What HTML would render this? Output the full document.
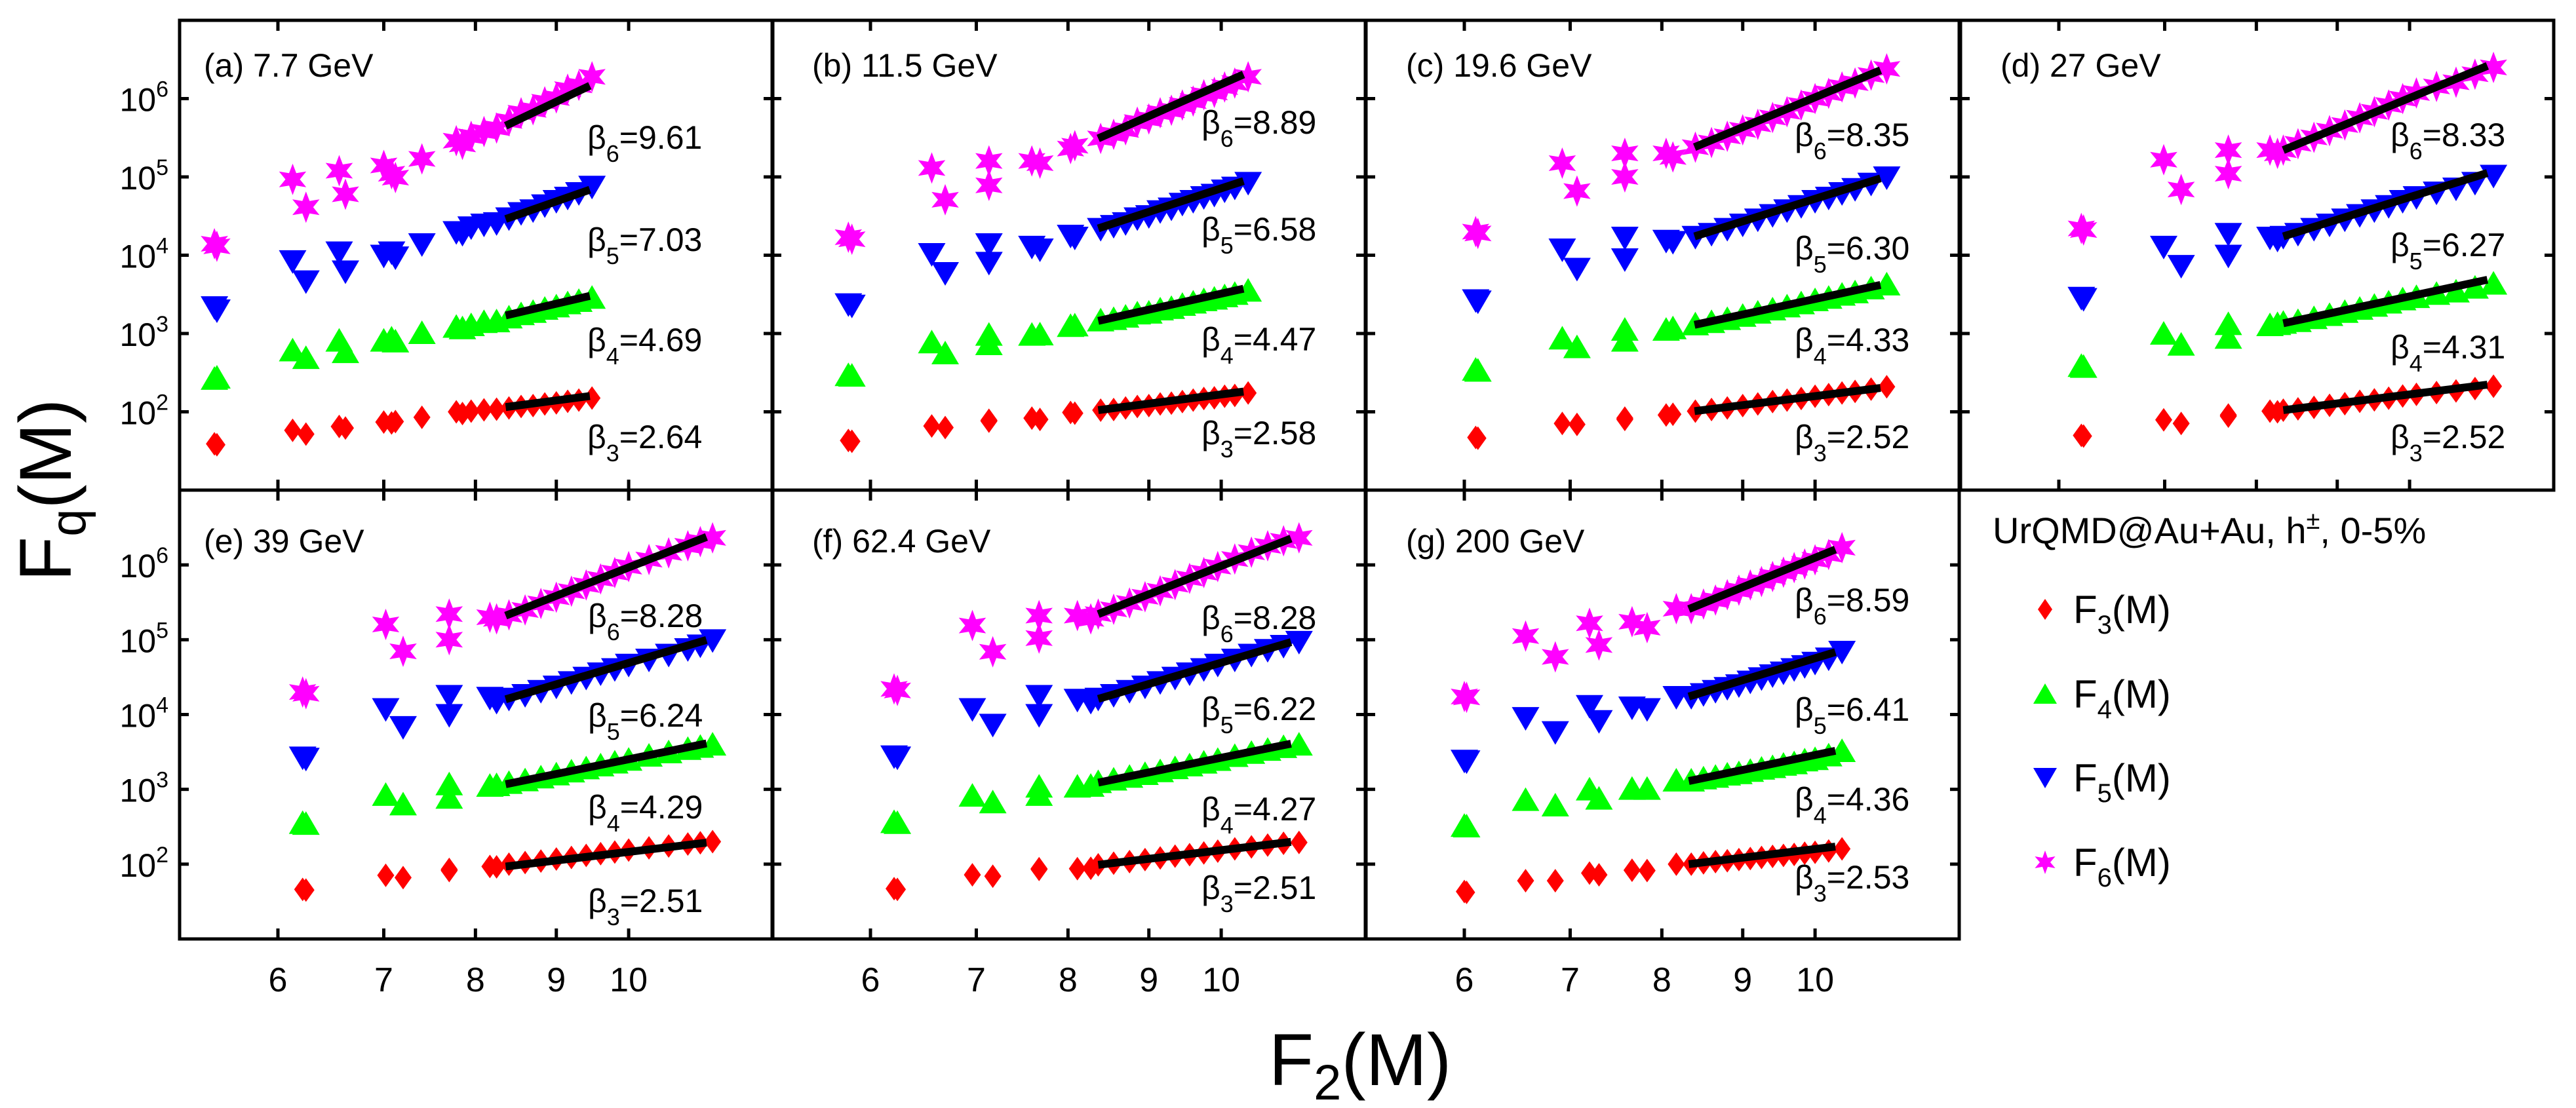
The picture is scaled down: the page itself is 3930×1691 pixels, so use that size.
<!DOCTYPE html>
<html><head><meta charset="utf-8"><style>
html,body{margin:0;padding:0;background:#fff;}
svg{display:block;font-family:"Liberation Sans",Arial,sans-serif;}
</style></head><body>
<svg id="chart" width="3930" height="1691" viewBox="0 0 3930 1691" xmlns="http://www.w3.org/2000/svg">
<rect x="0" y="0" width="3930" height="1691" fill="#fff"/>
<g id="marks"></g>
<g id="frames"></g>
<text transform="translate(108,748) rotate(-90)" text-anchor="middle" font-size="112">F<tspan font-size="76" dy="22">q</tspan><tspan dy="-22">(M)</tspan></text>
<text x="2075" y="1656" text-anchor="middle" font-size="112">F<tspan font-size="76" dy="22">2</tspan><tspan dy="-22">(M)</tspan></text>
<g>
<text x="3040" y="829" font-size="56">UrQMD@Au+Au, h<tspan dy="-22" font-size="38">±</tspan><tspan dy="22">, 0-5%</tspan></text>
<polygon points="3120,914 3131,930 3120,946 3109,930" fill="#ff0000"/>
<text x="3163" y="951" font-size="60">F<tspan font-size="40" dy="16">3</tspan><tspan dy="-16">(M)</tspan></text>
<polygon points="3120,1043 3138,1074 3102,1074" fill="#00ff00"/>
<text x="3163" y="1080" font-size="60">F<tspan font-size="40" dy="16">4</tspan><tspan dy="-16">(M)</tspan></text>
<polygon points="3102,1172 3138,1172 3120,1203" fill="#0000ff"/>
<text x="3163" y="1208" font-size="60">F<tspan font-size="40" dy="16">5</tspan><tspan dy="-16">(M)</tspan></text>
<path id="legstar" fill="#ff00ff" d=""/>
<text x="3163" y="1337" font-size="60">F<tspan font-size="40" dy="16">6</tspan><tspan dy="-16">(M)</tspan></text>
</g>
</svg>
<script>
// ---- data (F2 on x, Fq on y) ----
const aF2=[5.47,5.49,6.13,6.25,6.56,6.62,7.0,7.08,7.12,7.4,7.78,7.85,7.95,8.1,8.25,8.4,8.55,8.7,8.85,9.0,9.15,9.3,9.48];
const aF3=[39,38,58,52,65,62,74,72,75,85,100,95,102,106,108,112,117,120,126,130,136,141,150];
const aF4=[260,270,600,480,800,570,800,850,780,1000,1200,1150,1260,1380,1410,1580,1740,1860,2040,2190,2400,2570,2820];
const aF5=[2200,2000,8500,4700,11000,6300,10000,11000,9500,14000,20000,19000,23000,25000,26000,30000,35000,38000,44000,50000,55000,63000,76000];
const aF6=[14000,13000,93000,41000,120000,60000,140000,110000,98000,170000,290000,260000,330000,380000,420000,520000,660000,720000,910000,1020000,1320000,1480000,1900000];

const bF2=[5.81,5.84,6.56,6.69,7.13,7.13,7.59,7.68,8.03,8.08,8.39,8.55,8.7,8.85,9.0,9.15,9.3,9.45,9.6,9.75,9.9,10.05,10.2,10.4];
const bF3=[43,42,66,63,78,76,83,80,98,96,105,107,112,117,120,126,129,135,141,148,151,158,162,174];
const bF4=[290,285,760,550,950,720,950,960,1230,1250,1450,1510,1620,1780,1820,2000,2090,2290,2450,2630,2750,2950,3160,3470];
const bF5=[2400,2300,10500,6000,14000,8100,13000,12000,18000,17000,22000,24000,26000,30000,32000,37000,40000,46000,50000,56000,60000,68000,74000,85000];
const bF6=[17000,16000,130000,51000,160000,78000,160000,150000,230000,250000,310000,350000,400000,500000,550000,660000,710000,830000,930000,1120000,1200000,1410000,1580000,1900000];

const cF2=[6.1,6.12,6.92,7.07,7.58,7.58,8.05,8.13,8.4,8.6,8.8,9.0,9.2,9.4,9.6,9.8,10.0,10.2,10.4,10.6,10.85,11.1];
const cF3=[47,46,71,69,83,80,91,93,102,107,112,120,126,135,141,148,158,166,174,182,195,209];
const cF4=[340,330,850,660,1100,800,1100,1150,1290,1380,1510,1660,1820,2000,2190,2400,2630,2820,3090,3310,3720,4170];
const cF5=[2700,2600,12000,6800,17000,9000,15500,15000,17400,19000,22000,25000,29000,33000,38000,43000,50000,55000,63000,71000,83000,100000];
const cF6=[20000,19000,150000,66000,200000,100000,200000,180000,240000,275000,330000,400000,470000,575000,680000,830000,1000000,1170000,1410000,1580000,2000000,2400000];

const dF2=[6.2,6.22,6.99,7.17,7.68,7.68,8.16,8.25,8.32,8.5,8.7,8.9,9.1,9.3,9.5,9.7,9.9,10.1,10.4,10.7,11.0,11.3];
const dF3=[50,49,79,71,91,88,102,100,105,109,114,121,127,136,142,149,159,167,176,185,198,212];
const dF4=[380,370,980,710,1300,870,1260,1300,1350,1420,1550,1700,1860,2040,2230,2450,2690,2880,3160,3390,3800,4270];
const dF5=[2900,2800,13000,7400,19000,10000,17000,16000,17400,19000,22000,25000,29000,33000,38000,43000,50000,56000,64000,72000,85000,105000];
const dF6=[22000,21000,166000,69000,220000,110000,220000,200000,220000,265000,320000,390000,460000,570000,680000,830000,1000000,1180000,1430000,1620000,2050000,2500000];

const eF2=[6.22,6.25,7.02,7.2,7.7,7.7,8.17,8.25,8.4,8.6,8.8,9.0,9.2,9.4,9.6,9.8,10.0,10.3,10.6,10.9,11.1,11.3];
const eF3=[46,45,71,66,85,82,93,92,100,105,110,117,123,131,138,145,154,165,175,186,193,200];
const eF4=[350,340,830,620,1150,760,1100,1120,1200,1300,1420,1560,1710,1880,2060,2250,2450,2780,3080,3420,3650,3900];
const eF5=[2700,2600,12000,6900,18000,10000,17000,15000,16500,18500,21000,24000,27500,31500,36000,41000,47000,55000,64000,76000,85000,100000];
const eF6=[20000,19000,160000,70000,220000,100000,200000,190000,215000,250000,305000,370000,445000,540000,650000,790000,950000,1180000,1450000,1800000,2050000,2300000];

const fF2=[6.21,6.24,6.96,7.17,7.67,7.67,8.11,8.27,8.36,8.55,8.75,8.95,9.15,9.35,9.55,9.75,9.95,10.2,10.45,10.7,10.95,11.2];
const fF3=[47,46,72,69,87,85,87,88,98,103,108,115,121,128,134,141,149,160,170,180,190,195];
const fF4=[360,350,810,660,1070,830,1070,1100,1230,1330,1450,1580,1720,1890,2060,2240,2440,2750,3030,3320,3620,3900];
const fF5=[2800,2700,12000,7400,18000,10000,16000,15000,16500,18500,21000,24000,27500,31500,36000,41000,47000,55000,64000,74000,84000,95000];
const fF6=[22000,21000,155000,69000,210000,105000,210000,190000,220000,255000,310000,375000,450000,545000,660000,790000,950000,1200000,1480000,1800000,2100000,2300000];

const gF2=[6.0,6.02,6.56,6.85,7.2,7.3,7.66,7.83,8.17,8.35,8.5,8.65,8.8,8.95,9.1,9.25,9.4,9.55,9.7,9.85,10.0,10.2,10.4];
const gF3=[43,42,60,60,76,72,83,82,100,100,104,108,111,115,119,123,127,131,135,140,144,150,160];
const gF4=[320,315,710,600,980,740,1000,1000,1290,1290,1380,1450,1550,1620,1740,1860,1950,2100,2200,2400,2500,2800,3200];
const gF5=[2450,2400,9100,5900,13200,8300,12600,12000,17400,17400,19000,21000,23000,25000,28000,31000,34000,37000,41000,45000,50000,57000,70000];
const gF6=[17400,17000,112000,59000,166000,85000,174000,145000,260000,260000,300000,340000,400000,460000,540000,600000,700000,800000,920000,1030000,1170000,1380000,1700000];

// fit lines (panels a..g)
const fitX0=[8.36,8.36,8.39,8.32,8.36,8.36,8.32];
const fitX1=[9.45,10.33,11.0,11.2,11.2,11.07,10.3];
const fitY3=[115,105,102,105,93,98,100];
const fitY4=[1700,1450,1290,1350,1170,1230,1290];
const fitY5=[29000,22000,17400,17400,16000,16200,17400];
const fitY6=[450000,310000,240000,220000,210000,220000,257000];
const beta3=[2.64,2.58,2.52,2.52,2.51,2.51,2.53];
const beta4=[4.69,4.47,4.33,4.31,4.29,4.27,4.36];
const beta5=[7.03,6.58,6.30,6.27,6.24,6.22,6.41];
const beta6=[9.61,8.89,8.35,8.33,8.28,8.28,8.59];
const panelTitles=['(a) 7.7 GeV','(b) 11.5 GeV','(c) 19.6 GeV','(d) 27 GeV','(e) 39 GeV','(f) 62.4 GeV','(g) 200 GeV'];
const xTicks=[6,7,8,9,10];
const yTicks=[2,3,4,5,6];

// ---- layout ----
const NS='http://www.w3.org/2000/svg';
const colL=[274,1178,2084,2991], colW=905;
const rowT=[31,748], rowH=[717,685];
const panelCell=[[0,0],[1,0],[2,0],[3,0],[0,1],[1,1],[2,1]];
const titleX=[37,61,61,61,37,61,61];
const betaX=[622,655,654,656,623,655,654];
const betaY=[[635,487,334,178],[629,486,318,155],[635,487,347,174],[635,498,342,174],[626,483,343,191],[606,486,333,194],[590,471,334,167]];
const DATA=[[aF2,aF3,aF4,aF5,aF6],[bF2,bF3,bF4,bF5,bF6],[cF2,cF3,cF4,cF5,cF6],[dF2,dF3,dF4,dF5,dF6],[eF2,eF3,eF4,eF5,eF6],[fF2,fF3,fF4,fF5,fF6],[gF2,gF3,gF4,gF5,gF6]];
const COLORS=['#ff0000','#00ff00','#0000ff','#ff00ff'];
const marks=document.getElementById('marks'), frames=document.getElementById('frames');

function X(p,v){return colL[panelCell[p][0]]+150+2412*(Math.log10(v)-Math.log10(6));}
function Y(p,v){const r=panelCell[p][1];return rowT[r]+(7-Math.log10(v))*rowH[r]/6;}
function mk(tag,parent){const e=document.createElementNS(NS,tag);parent.appendChild(e);return e;}
function starPath(cx,cy,ro,ri){let d='';for(let k=0;k<12;k++){const r=k%2?ri:ro;const a=(-90+k*30)*Math.PI/180;d+=(k?'L':'M')+(cx+r*Math.cos(a)).toFixed(1)+','+(cy+r*Math.sin(a)).toFixed(1);}return d+'Z';}
function markerShape(q,cx,cy){
  if(q===0) return 'M'+cx+','+(cy-18)+'L'+(cx+13)+','+cy+'L'+cx+','+(cy+18)+'L'+(cx-13)+','+cy+'Z';
  if(q===1) return 'M'+cx+','+(cy-20)+'L'+(cx+21)+','+(cy+16)+'L'+(cx-21)+','+(cy+16)+'Z';
  if(q===2) return 'M'+(cx-21)+','+(cy-16)+'L'+(cx+21)+','+(cy-16)+'L'+cx+','+(cy+20)+'Z';
  return starPath(cx,cy,24,11);
}
document.getElementById('legstar').setAttribute('d',starPath(3120,1316,18,8));
const fitY=[fitY3,fitY4,fitY5,fitY6], betas=[beta3,beta4,beta5,beta6];

for(let p=0;p<7;p++){
  const L=colL[panelCell[p][0]], T=rowT[panelCell[p][1]], H=rowH[panelCell[p][1]];
  const d=DATA[p];
  for(let q=0;q<4;q++){
    const g=mk('g',marks);
    
    
    g.setAttribute('fill',COLORS[q]);
    for(let i=0;i<d[0].length;i++){
      const m=mk('path',g);
      
      
      m.setAttribute('d',markerShape(q,X(p,d[0][i]),Y(p,d[q+1][i])));
    }
  }
  for(let q=0;q<4;q++){
    const x0=fitX0[p],x1=fitX1[p],y0=fitY[q][p],y1=y0*Math.pow(x1/x0,betas[q][p]);
    const ln=mk('line',marks);
    
    
    ln.setAttribute('x1',X(p,x0));ln.setAttribute('y1',Y(p,y0));
    ln.setAttribute('x2',X(p,x1));ln.setAttribute('y2',Y(p,y1));
    ln.setAttribute('stroke','#000');ln.setAttribute('stroke-width','12');
    const t=mk('text',frames);
    
    
    t.setAttribute('x',L+betaX[p]);t.setAttribute('y',T+betaY[p][q]+18);
    t.setAttribute('font-size','50');
    t.innerHTML='β<tspan dy="20" font-size="36">'+(q+3)+'</tspan><tspan dy="-20">='+betas[q][p].toFixed(2)+'</tspan>';
  }
  const r=mk('rect',frames);
  
  
  r.setAttribute('x',L);r.setAttribute('y',T);r.setAttribute('width',colW);r.setAttribute('height',H);
  r.setAttribute('fill','none');r.setAttribute('stroke','#000');r.setAttribute('stroke-width','5');
  const tt=mk('text',frames);
  
  
  tt.setAttribute('x',L+titleX[p]);tt.setAttribute('y',T+(panelCell[p][1]?77:68)+18);
  tt.setAttribute('font-size','50');
  tt.textContent=panelTitles[p];
  xTicks.forEach(v=>{
    const x=X(p,v);
    [[T,T+16],[T+H,T+H-16]].forEach(s=>{
      const k=mk('line',frames);
      
      
      k.setAttribute('x1',x);k.setAttribute('x2',x);k.setAttribute('y1',s[0]);k.setAttribute('y2',s[1]);
      k.setAttribute('stroke','#000');k.setAttribute('stroke-width','5');
    });
    if(panelCell[p][1]===1){
      const lb=mk('text',frames);
      
      
      lb.setAttribute('x',x);lb.setAttribute('y',1513);lb.setAttribute('text-anchor','middle');lb.setAttribute('font-size','52');
      lb.textContent=v;
    }
  });
  yTicks.forEach(e=>{
    const y=Y(p,Math.pow(10,e));
    [[L,L+14],[L+colW,L+colW-14]].forEach(s=>{
      const k=mk('line',frames);
      
      
      k.setAttribute('x1',s[0]);k.setAttribute('x2',s[1]);k.setAttribute('y1',y);k.setAttribute('y2',y);
      k.setAttribute('stroke','#000');k.setAttribute('stroke-width','5');
    });
    if(panelCell[p][0]===0){
      const lb=mk('text',frames);
      
      
      lb.setAttribute('x',257);lb.setAttribute('y',y+19);lb.setAttribute('text-anchor','end');lb.setAttribute('font-size','50');
      lb.innerHTML='10<tspan dy="-22" font-size="34">'+e+'</tspan>';
    }
  });
}
</script>
</body></html>
